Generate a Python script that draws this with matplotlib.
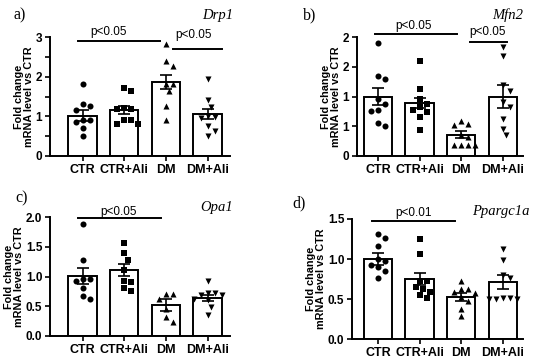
import numpy as np
import matplotlib
matplotlib.use("Agg")
import matplotlib.pyplot as plt

groups = ["CTR", "CTR+Ali", "DM", "DM+Ali"]

# Panel a: Drp1
drp1_pts = [
    [1.82, 1.31, 1.27, 1.17, 0.92, 0.92, 0.85, 0.70, 0.51],
    [1.71, 1.64, 1.20, 1.19, 1.19, 0.92, 0.92, 0.81, 0.81],
    [2.83, 2.40, 2.27, 1.81, 1.81, 1.64, 1.27, 0.92],
    [1.93, 1.41, 1.24, 1.02, 0.98, 0.96, 0.75, 0.62, 0.51],
]
drp1_mean = [1.02, 1.17, 1.87, 1.06]
drp1_sem = [0.14, 0.10, 0.18, 0.13]

# Panel b: Mfn2
mfn2_pts = [
    [1.90, 1.34, 1.29, 0.95, 0.87, 0.78, 0.76, 0.56, 0.50],
    [1.60, 1.12, 0.95, 0.87, 0.83, 0.77, 0.74, 0.65, 0.43],
    [0.59, 0.54, 0.52, 0.35, 0.32, 0.18, 0.18, 0.18, 0.18],
    [1.84, 1.68, 1.19, 1.10, 0.91, 0.83, 0.63, 0.46, 0.35],
]
mfn2_mean = [1.00, 0.89, 0.36, 1.00]
mfn2_sem = [0.14, 0.09, 0.06, 0.20]
mfn2_ticklabels = ["0", "1", "1", "2", "2"]

# Panel c: Opa1
opa1_pts = [
    [1.88, 1.27, 0.96, 0.95, 0.93, 0.80, 0.68, 0.62],
    [1.57, 1.39, 1.28, 1.11, 0.93, 0.90, 0.80, 0.76],
    [0.71, 0.71, 0.62, 0.46, 0.32, 0.24],
    [0.92, 0.72, 0.72, 0.69, 0.69, 0.62, 0.60, 0.49, 0.35],
]
opa1_mean = [1.01, 1.11, 0.52, 0.64]
opa1_sem = [0.14, 0.10, 0.10, 0.05]

# Panel d: Ppargc1a
ppar_pts = [
    [1.31, 1.26, 1.16, 1.00, 0.97, 0.93, 0.90, 0.85, 0.76],
    [1.25, 1.06, 0.73, 0.72, 0.65, 0.63, 0.59, 0.55, 0.51],
    [0.72, 0.62, 0.62, 0.59, 0.58, 0.53, 0.47, 0.38, 0.29],
    [1.12, 0.99, 0.80, 0.76, 0.51, 0.50, 0.50, 0.50, 0.51],
]
ppar_mean = [1.00, 0.75, 0.52, 0.71]
ppar_sem = [0.07, 0.08, 0.05, 0.09]

markers = ["o", "s", "^", "v"]

SANS = ["Liberation Sans", "DejaVu Sans"]
SERIF = ["Liberation Serif", "DejaVu Serif"]

fig = plt.figure(figsize=(5.5, 3.59), dpi=100)


def swarm(ax, x0, vals, dist_px=7.0):
    """Simple deterministic beeswarm in pixel space."""
    tr = ax.transData
    placed = []
    xs = [None] * len(vals)
    order = np.argsort(vals)[::-1]
    px_per_x = tr.transform((1, 0))[0] - tr.transform((0, 0))[0]
    for i in order:
        py = tr.transform((x0, vals[i]))[1]
        k = 0
        while True:
            cands = [0] if k == 0 else [k, -k]
            ok_c = None
            for c in cands:
                px = c * dist_px * 0.5
                if all((px - qx) ** 2 + (py - qy) ** 2 >= dist_px ** 2 for qx, qy in placed):
                    ok_c = px
                    break
            if ok_c is not None:
                placed.append((ok_c, py))
                xs[i] = x0 + ok_c / px_per_x
                break
            k += 1
    return xs


def panel(rect, pts, means, sems, ylim, yticks, yticklabels, xlim, sigs, letter, gene,
          letter_xy, gene_xy):
    ax = fig.add_axes(rect)
    x = np.arange(len(groups))
    ax.set_xlim(*xlim)
    ax.set_ylim(*ylim)
    ax.bar(x, means, width=0.68, color="white", edgecolor="black", linewidth=1.4, zorder=1)
    ax.errorbar(x, means, yerr=sems, fmt="none", ecolor="black", elinewidth=1.2,
                capsize=4.5, capthick=1.2, zorder=3)
    for i, vals in enumerate(pts):
        xs = swarm(ax, x[i], vals)
        ax.scatter(xs, vals, marker=markers[i], s=19, color="black", zorder=4,
                   linewidths=0, clip_on=False)
    for spine in ["top", "right"]:
        ax.spines[spine].set_visible(False)
    for spine in ["left", "bottom"]:
        ax.spines[spine].set_linewidth(1.4)
    ax.set_xticks(x)
    ax.set_xticklabels(groups, fontsize=9, fontweight="bold", family=SANS)
    ax.set_yticks(yticks)
    ax.set_yticklabels(yticklabels, fontsize=8.5, fontweight="bold", family=SANS)
    ax.tick_params(axis="both", direction="out", length=3.5, width=1.2, pad=2)
    ax.set_ylabel("Fold change\nmRNA level vs CTR", fontsize=7.8, fontweight="bold",
                  family=SANS, labelpad=1, linespacing=1.1)
    for (x1, x2, y, label, tx, ty) in sigs:
        ax.plot([x1, x2], [y, y], color="black", lw=1.4, clip_on=False, zorder=5)
        ax.text(tx, ty, label, ha="center", va="center", fontsize=8.5, family=SANS,
                clip_on=False)
    fig.text(letter_xy[0], letter_xy[1], letter, fontsize=11.5, family=SERIF,
             ha="left", va="center")
    fig.text(gene_xy[0], gene_xy[1], gene, fontsize=10.5, family=SERIF, style="italic",
             ha="right", va="center")
    return ax


W, H = 550.0, 359.0

def rect(l, r, t, b):
    return [l / W, 1 - b / H, (r - l) / W, (b - t) / H]

# Panel a
panel(rect(50, 230, 37, 156), drp1_pts, drp1_mean, drp1_sem, (0, 3),
      [0, 0.5, 1, 1.5, 2, 2.5, 3], ["0", "", "1", "", "2", "", "3"], (-0.78, 3.54),
      [(-0.11, 1.86, 2.89, "p<0.05", 0.62, 3.12),
       (2.17, 3.34, 2.71, "p<0.05", 2.67, 3.05)],
      "a)", "Drp1", (14 / W, 1 - 15 / H), (233 / W, 1 - 16 / H))

# Panel b
panel(rect(357, 523, 37, 156), mfn2_pts, mfn2_mean, mfn2_sem, (0, 2),
      [0, 0.5, 1, 1.5, 2], mfn2_ticklabels, (-0.5, 3.48),
      [(-0.06, 1.89, 2.05, "p<0.05", 0.85, 2.18),
       (2.21, 3.09, 1.91, "p<0.05", 2.64, 2.08)],
      "b)", "Mfn2", (303 / W, 1 - 15 / H), (523 / W, 1 - 15 / H))

# Panel c
panel(rect(50, 230, 217, 336), opa1_pts, opa1_mean, opa1_sem, (0, 2),
      [0, 0.5, 1, 1.5, 2], ["0.0", "0.5", "1.0", "1.5", "2.0"], (-0.78, 3.54),
      [(-0.11, 1.88, 1.99, "p<0.05", 0.86, 2.09)],
      "c)", "Opa1", (15 / W, 1 - 198 / H), (233 / W, 1 - 208 / H))

# Panel d
panel(rect(352, 523, 219, 339), ppar_pts, ppar_mean, ppar_sem, (0, 1.5),
      [0, 0.5, 1, 1.5], ["0.0", "0.5", "1.0", "1.5"], (-0.62, 3.48),
      [(-0.14, 1.85, 1.47, "p<0.01", 0.85, 1.58)],
      "d)", "Ppargc1a", (292 / W, 1 - 203 / H), (530 / W, 1 - 212 / H))

fig.savefig("out.png", dpi=100)
